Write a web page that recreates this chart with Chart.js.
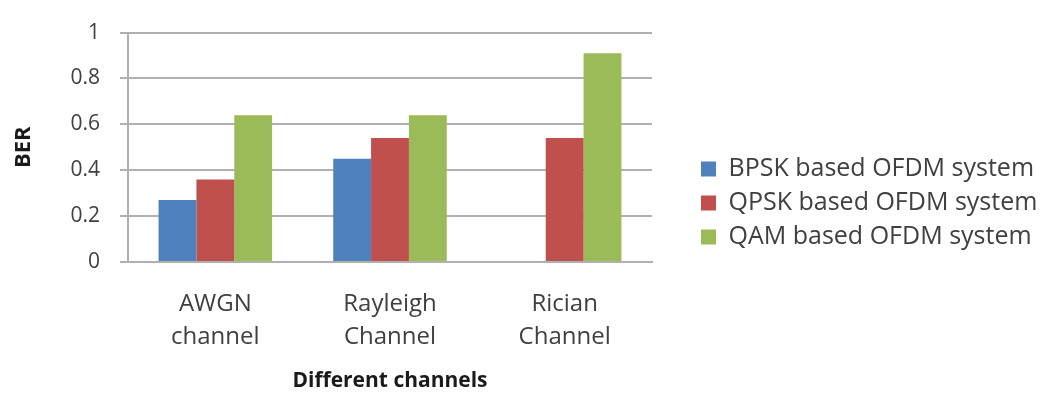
<!DOCTYPE html>
<html>
<head>
<meta charset="utf-8">
<script src="https://cdn.jsdelivr.net/npm/chart.js@4.4.1/dist/chart.umd.min.js"></script>
<style>
  html, body { margin: 0; padding: 0; background: #fff; }
  #wrap { width: 1052px; height: 403px; }
</style>
</head>
<body>
<div id="wrap"><canvas id="chart"></canvas></div>
<script>
// Data
const categories = [['AWGN', 'channel'], ['Rayleigh', 'Channel'], ['Rician', 'Channel']];
const seriesNames = ['BPSK based OFDM system', 'QPSK based OFDM system', 'QAM based OFDM system'];
const bpskBer = [0.27, 0.45, null];
const qpskBer = [0.36, 0.54, 0.54];
const qamBer = [0.64, 0.64, 0.91];
const yTicks = ['0', '0.2', '0.4', '0.6', '0.8', '1'];

const FONT = "'Open Sans', sans-serif";
const GRID = '#b0b0b0';
const LEGEND_SIZE = 25;

Chart.defaults.font.family = FONT;
Chart.defaults.color = '#404040';

// legend text width decides how much right padding is left over
const m = document.createElement('canvas').getContext('2d');
m.font = `${LEGEND_SIZE}px ${FONT}`;
const legendTextW = Math.max(...seriesNames.map(s => m.measureText(s).width));
const padRight = Math.max(0, 313.5 - legendTextW);

new Chart(document.getElementById('chart'), {
  type: 'bar',
  data: {
    labels: categories,
    datasets: [
      { label: seriesNames[0], data: bpskBer, backgroundColor: '#4f81bd' },
      { label: seriesNames[1], data: qpskBer, backgroundColor: '#c0504d' },
      { label: seriesNames[2], data: qamBer, backgroundColor: '#9bbb59' },
    ],
  },
  options: {
    responsive: true,
    maintainAspectRatio: false,
    animation: false,
    layout: { padding: { top: 26, bottom: 23, left: 0, right: padRight } },
    datasets: { bar: { categoryPercentage: 0.65, barPercentage: 1 } },
    plugins: {
      tooltip: { enabled: false },
      legend: {
        position: 'right',
        maxWidth: 420,
        labels: {
          boxWidth: 15,
          boxHeight: 15,
          padding: 9,
          color: '#404040',
          font: { size: LEGEND_SIZE },
        },
      },
    },
    scales: {
      x: {
        grid: { display: false, drawTicks: false },
        border: { display: true, color: GRID, width: 2 },
        ticks: { padding: 26, color: '#404040', font: { size: 24, lineHeight: 1.375 } },
        title: {
          display: true,
          text: 'Different channels',
          color: '#1a1a1a',
          font: { size: 21, weight: 'bold' },
          padding: { top: 0, bottom: -13.6 },
        },
        afterFit: s => { s.height = 118; },
      },
      y: {
        min: 0,
        max: 1,
        ticks: {
          stepSize: 0.2,
          padding: 20,
          color: '#404040',
          font: { size: 21 },
          callback: (v, i) => yTicks[i],
        },
        grid: { color: GRID, lineWidth: 2, tickLength: 8 },
        border: { display: true, color: GRID, width: 2 },
        title: {
          display: true,
          text: 'BER',
          color: '#1a1a1a',
          font: { size: 22, weight: 'bold' },
          padding: { top: 11, bottom: 0 },
        },
        afterFit: s => { s.width = 128; },
      },
      // empty spacer between the plot and the legend
      gap: {
        position: 'right',
        display: true,
        grid: { display: false },
        border: { display: false },
        ticks: { display: false },
        afterFit: s => { s.width = 40; },
      },
    },
  },
});
</script>
</body>
</html>
